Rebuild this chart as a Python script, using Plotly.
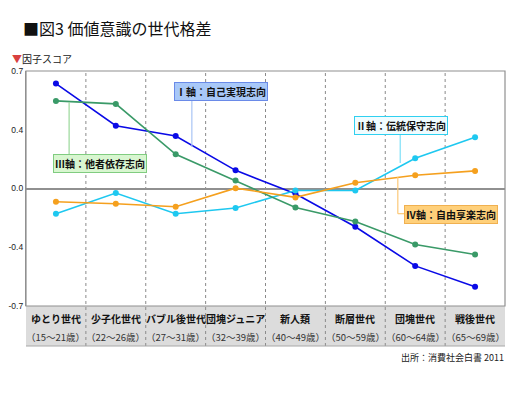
import plotly.graph_objects as go

categories = ["ゆとり世代", "少子化世代", "バブル後世代", "団塊ジュニア", "新人類", "断層世代", "団塊世代", "戦後世代"]
age_ranges = ["（15～21歳）", "（22～26歳）", "（27～31歳）", "（32～39歳）", "（40～49歳）", "（50～59歳）", "（60～64歳）", "（65～69歳）"]

axis1_self = [0.625, 0.374, 0.313, 0.108, -0.031, -0.228, -0.461, -0.586]
axis2_trad = [-0.150, -0.027, -0.150, -0.116, -0.012, -0.012, 0.180, 0.305]
axis3_dep = [0.522, 0.504, 0.204, 0.047, -0.113, -0.196, -0.334, -0.393]
axis4_free = [-0.079, -0.091, -0.109, 0.002, -0.053, 0.034, 0.079, 0.105]

tick_vals = [0.7, 0.35, 0.0, -0.35, -0.7]
tick_text = ["0.7", "0.4", "0.0", "-0.4", "-0.7"]

FONT = "Noto Sans CJK JP"
x_idx = list(range(len(categories)))

series = [
    ("Ⅰ軸：自己実現志向", axis1_self, "#0a0ae6"),
    ("Ⅱ軸：伝統保守志向", axis2_trad, "#1ec8f0"),
    ("Ⅲ軸：他者依存志向", axis3_dep, "#3a9a68"),
    ("Ⅳ軸：自由享楽志向", axis4_free, "#f5a01e"),
]

fig = go.Figure()
for name, vals, col in series:
    fig.add_trace(go.Scatter(
        x=x_idx, y=vals, mode="lines+markers", name=name,
        line=dict(color=col, width=1.6),
        marker=dict(color=col, size=6),
        showlegend=False, hoverinfo="skip"))

# page has an 8px body margin: figure is drawn 8px smaller and offset coordinates
OFF = 8
W, H = 520 - OFF, 395 - OFF
ml, mr, mt, mb = 26 - OFF, 15, 71 - OFF, 89
pw, ph = W - ml - mr, H - mt - mb


def px(x):
    return (x - OFF - ml) / pw


def py(y):
    return (H - mb - (y - OFF)) / ph


band = 40 / ph
shapes = []
shapes.append(dict(type="rect", xref="paper", yref="paper", x0=0, x1=1, y0=-band, y1=0,
                   fillcolor="#dcdcdc", line=dict(width=0), layer="below"))
shapes.append(dict(type="line", xref="paper", yref="paper", x0=0, x1=1, y0=-band, y1=-band,
                   line=dict(color="#a8a8a8", width=1)))
for i in range(len(categories) - 1):
    shapes.append(dict(type="line", xref="x", yref="paper", x0=i + 0.5, x1=i + 0.5, y0=-band, y1=1,
                       line=dict(color="#8a8a8a", width=1, dash="dot"), layer="below"))
shapes.append(dict(type="rect", xref="paper", yref="paper", x0=0, x1=1, y0=0, y1=1,
                   line=dict(color="#909090", width=1.2)))

leaders = [
    ("#a8c4f4", [(2.27, 0.538), (2.27, 0.247)]),
    ("#7ee0f8", [(5.75, 0.336), (5.75, 0.152)]),
    ("#9ad89a", [(0.22, 0.188), (0.22, 0.514)]),
    ("#fcc878", [(5.71, 0.069), (5.71, -0.150), (5.88, -0.150)]),
]
for col, pts in leaders:
    for (xa, ya), (xb, yb) in zip(pts[:-1], pts[1:]):
        shapes.append(dict(type="line", xref="x", yref="y", x0=xa, x1=xb, y0=ya, y1=yb,
                           line=dict(color=col, width=1.2)))

annotations = []
labels = [
    ("Ⅰ軸：自己実現志向", 2.76, 0.579, "#a8c8f8", "#6a8ae8"),
    ("Ⅱ軸：伝統保守志向", 5.76, 0.375, "#f0fcff", "#30d0f0"),
    ("Ⅲ軸：他者依存志向", 0.74, 0.147, "#d8f6d0", "#80cc80"),
    ("Ⅳ軸：自由享楽志向", 6.60, -0.156, "#ffd07a", "#f0b050"),
]
for txt, xx, yy, bg, bd in labels:
    annotations.append(dict(x=xx, y=yy, xref="x", yref="y", text="<b>" + txt + "</b>",
                            showarrow=False, bgcolor=bg, bordercolor=bd, borderwidth=1, borderpad=1,
                            font=dict(family=FONT, size=10, color="#111")))

for i, (c, a) in enumerate(zip(categories, age_ranges)):
    annotations.append(dict(x=i, y=-12 / ph, xref="x", yref="paper", text="<b>" + c + "</b>",
                            showarrow=False, font=dict(family=FONT, size=10, color="#111"),
                            yanchor="middle"))
    annotations.append(dict(x=i, y=-31 / ph, xref="x", yref="paper", text=a,
                            showarrow=False, font=dict(family=FONT, size=9.5, color="#333"),
                            yanchor="middle"))

annotations.append(dict(x=px(21), y=py(28), xref="paper", yref="paper", xanchor="left", yanchor="middle",
                        text="■図3 価値意識の世代格差", showarrow=False,
                        font=dict(family=FONT, size=16, color="#111")))
annotations.append(dict(x=px(10), y=py(58), xref="paper", yref="paper", xanchor="left", yanchor="middle",
                        text="<span style='color:#d84040'>▼</span>因子スコア", showarrow=False,
                        font=dict(family=FONT, size=10, color="#222")))
annotations.append(dict(x=px(506), y=py(357), xref="paper", yref="paper", xanchor="right", yanchor="middle",
                        text="出所：消費社会白書 2011", showarrow=False,
                        font=dict(family=FONT, size=9, color="#222")))

fig.update_layout(
    width=W, height=H,
    margin=dict(l=ml, r=mr, t=mt, b=mb, autoexpand=False),
    paper_bgcolor="white", plot_bgcolor="white",
    shapes=shapes, annotations=annotations,
    xaxis=dict(range=[-0.5, len(categories) - 0.5], showticklabels=False, showgrid=False,
               zeroline=False, showline=False, fixedrange=True, automargin=False),
    yaxis=dict(range=[-0.7, 0.7], tickvals=tick_vals, ticktext=tick_text, showgrid=False,
               zeroline=True, zerolinecolor="#909090", zerolinewidth=1.5,
               showline=True, linecolor="#909090", linewidth=1.2, ticks="", ticklen=0,
               automargin=False,
               tickfont=dict(family="Liberation Sans", size=8.5, color="#222"), fixedrange=True),
)

fig.write_html("out.html")
